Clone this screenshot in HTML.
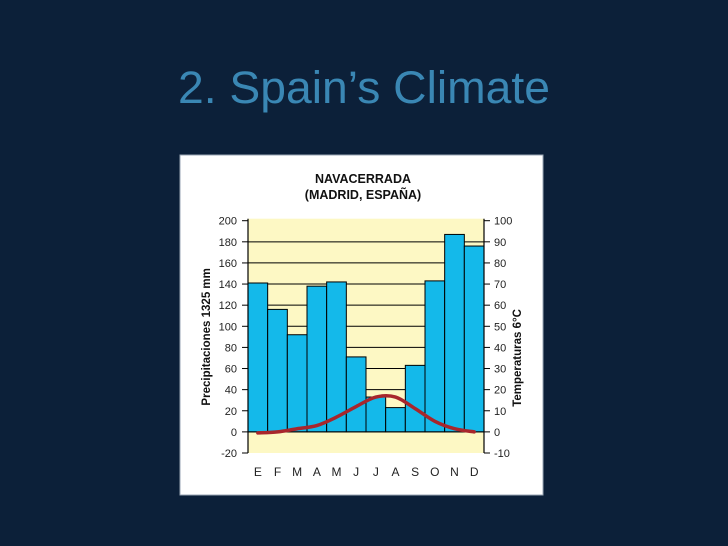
<!DOCTYPE html>
<html><head><meta charset="utf-8"><style>
html,body{margin:0;padding:0;background:#0c2039;width:728px;height:546px;overflow:hidden}
svg{display:block}
</style></head><body>
<svg id="s" width="728" height="546" xmlns="http://www.w3.org/2000/svg">
<rect width="728" height="546" fill="#0c2039"/>
<text x="178" y="103" font-family="Liberation Sans, sans-serif" font-size="45" fill="#3a87b4" textLength="372" lengthAdjust="spacingAndGlyphs">2. Spain’s Climate</text>
<rect x="180" y="155" width="363" height="340" fill="#ffffff" stroke="#9aa6b4" stroke-width="1"/>
<text x="363" y="183" text-anchor="middle" font-family="Liberation Sans, sans-serif" font-weight="bold" font-size="12.5" fill="#111">NAVACERRADA</text>
<text x="363" y="199" text-anchor="middle" font-family="Liberation Sans, sans-serif" font-weight="bold" font-size="12.5" fill="#111">(MADRID, ESPAÑA)</text>
<g id="plot"></g>
</svg>
<script>
const months=["E","F","M","A","M","J","J","A","S","O","N","D"];
const precip=[141,116,92,138,142,71,33,23,63,143,187,176];
const temp=[-0.5,0,1.5,3,7,12,16.5,16.5,11,5,1.5,0];
const precipTicks=[200,180,160,140,120,100,80,60,40,20,0,-20];
const tempTicks=[100,90,80,70,60,50,40,30,20,10,0,-10];
const NS="http://www.w3.org/2000/svg";
const L=248,R=484,T=220.7,B=453;
const y=v=>B-(v+20)*(B-T)/220;
const yt=v=>y(v*2);
const bw=(R-L)/12;
const x=i=>L+i*bw;
const g=document.getElementById('plot');
function mk(tag,attrs,parent){const e=document.createElementNS(NS,tag);for(const k in attrs)e.setAttribute(k,attrs[k]);(parent||g).appendChild(e);return e;}
const bg=mk('rect',{x:L,y:T-2,width:R-L,height:B-T+2,fill:'#fdf8c4'});


precipTicks.forEach(v=>{
  if(v>0&&v<200){const gl=mk('line',{x1:L,x2:R,y1:y(v),y2:y(v),stroke:'#000','stroke-width':1});
  
  }
  const tk=mk('line',{x1:L-6,x2:L,y1:y(v),y2:y(v),stroke:'#000'});
  
  
  const t=mk('text',{x:L-11,y:y(v)+4,'text-anchor':'end','font-family':'Liberation Sans, sans-serif','font-size':11,fill:'#222'});
  t.textContent=v;
  
  
});
tempTicks.forEach(v=>{
  const tk=mk('line',{x1:R,x2:R+6,y1:yt(v),y2:yt(v),stroke:'#000'});
  
  
  const t=mk('text',{x:R+10,y:yt(v)+4,'font-family':'Liberation Sans, sans-serif','font-size':11,fill:'#222'});
  t.textContent=v;
  
  
});
precip.forEach((v,i)=>{
  const b=mk('rect',{x:x(i),y:y(v),width:bw,height:y(0)-y(v),fill:'#14b9ea',stroke:'#000','stroke-width':1});
  
  
});
[L,R].forEach((xx,k)=>{
  const a=mk('line',{x1:xx,x2:xx,y1:T-2,y2:B,stroke:'#000','stroke-width':1.2});
  
  
});
const z=mk('line',{x1:L,x2:R,y1:y(0),y2:y(0),stroke:'#000'});


const pts=temp.map((v,i)=>[x(i)+bw/2,yt(v)]);
let d='M'+pts[0][0]+','+pts[0][1];
for(let i=0;i<pts.length-1;i++){
  const p0=pts[Math.max(0,i-1)],p1=pts[i],p2=pts[i+1],p3=pts[Math.min(pts.length-1,i+2)];
  const c1=[p1[0]+(p2[0]-p0[0])/6,p1[1]+(p2[1]-p0[1])/6];
  const c2=[p2[0]-(p3[0]-p1[0])/6,p2[1]-(p3[1]-p1[1])/6];
  d+='C'+c1[0]+','+c1[1]+' '+c2[0]+','+c2[1]+' '+p2[0]+','+p2[1];
}
const ln=mk('path',{d:d,fill:'none',stroke:'#a8262c','stroke-width':3.5,'stroke-linejoin':'round','stroke-linecap':'round'});


months.forEach((m,i)=>{
  const t=mk('text',{x:x(i)+bw/2,y:476,'text-anchor':'middle','font-family':'Liberation Sans, sans-serif','font-size':12,fill:'#222'});
  t.textContent=m;
  
  
});
const yl=mk('text',{transform:'translate(210,'+y(90)+') rotate(-90)','text-anchor':'middle','font-family':'Liberation Sans, sans-serif','font-weight':'bold','font-size':11.5,fill:'#111'});
yl.textContent='Precipitaciones 1325 mm';


const yr=mk('text',{transform:'translate(521,'+y(70)+') rotate(-90)','text-anchor':'middle','font-family':'Liberation Sans, sans-serif','font-weight':'bold','font-size':11.5,fill:'#111'});
yr.textContent='Temperaturas 6°C';


</script>
</body></html>
